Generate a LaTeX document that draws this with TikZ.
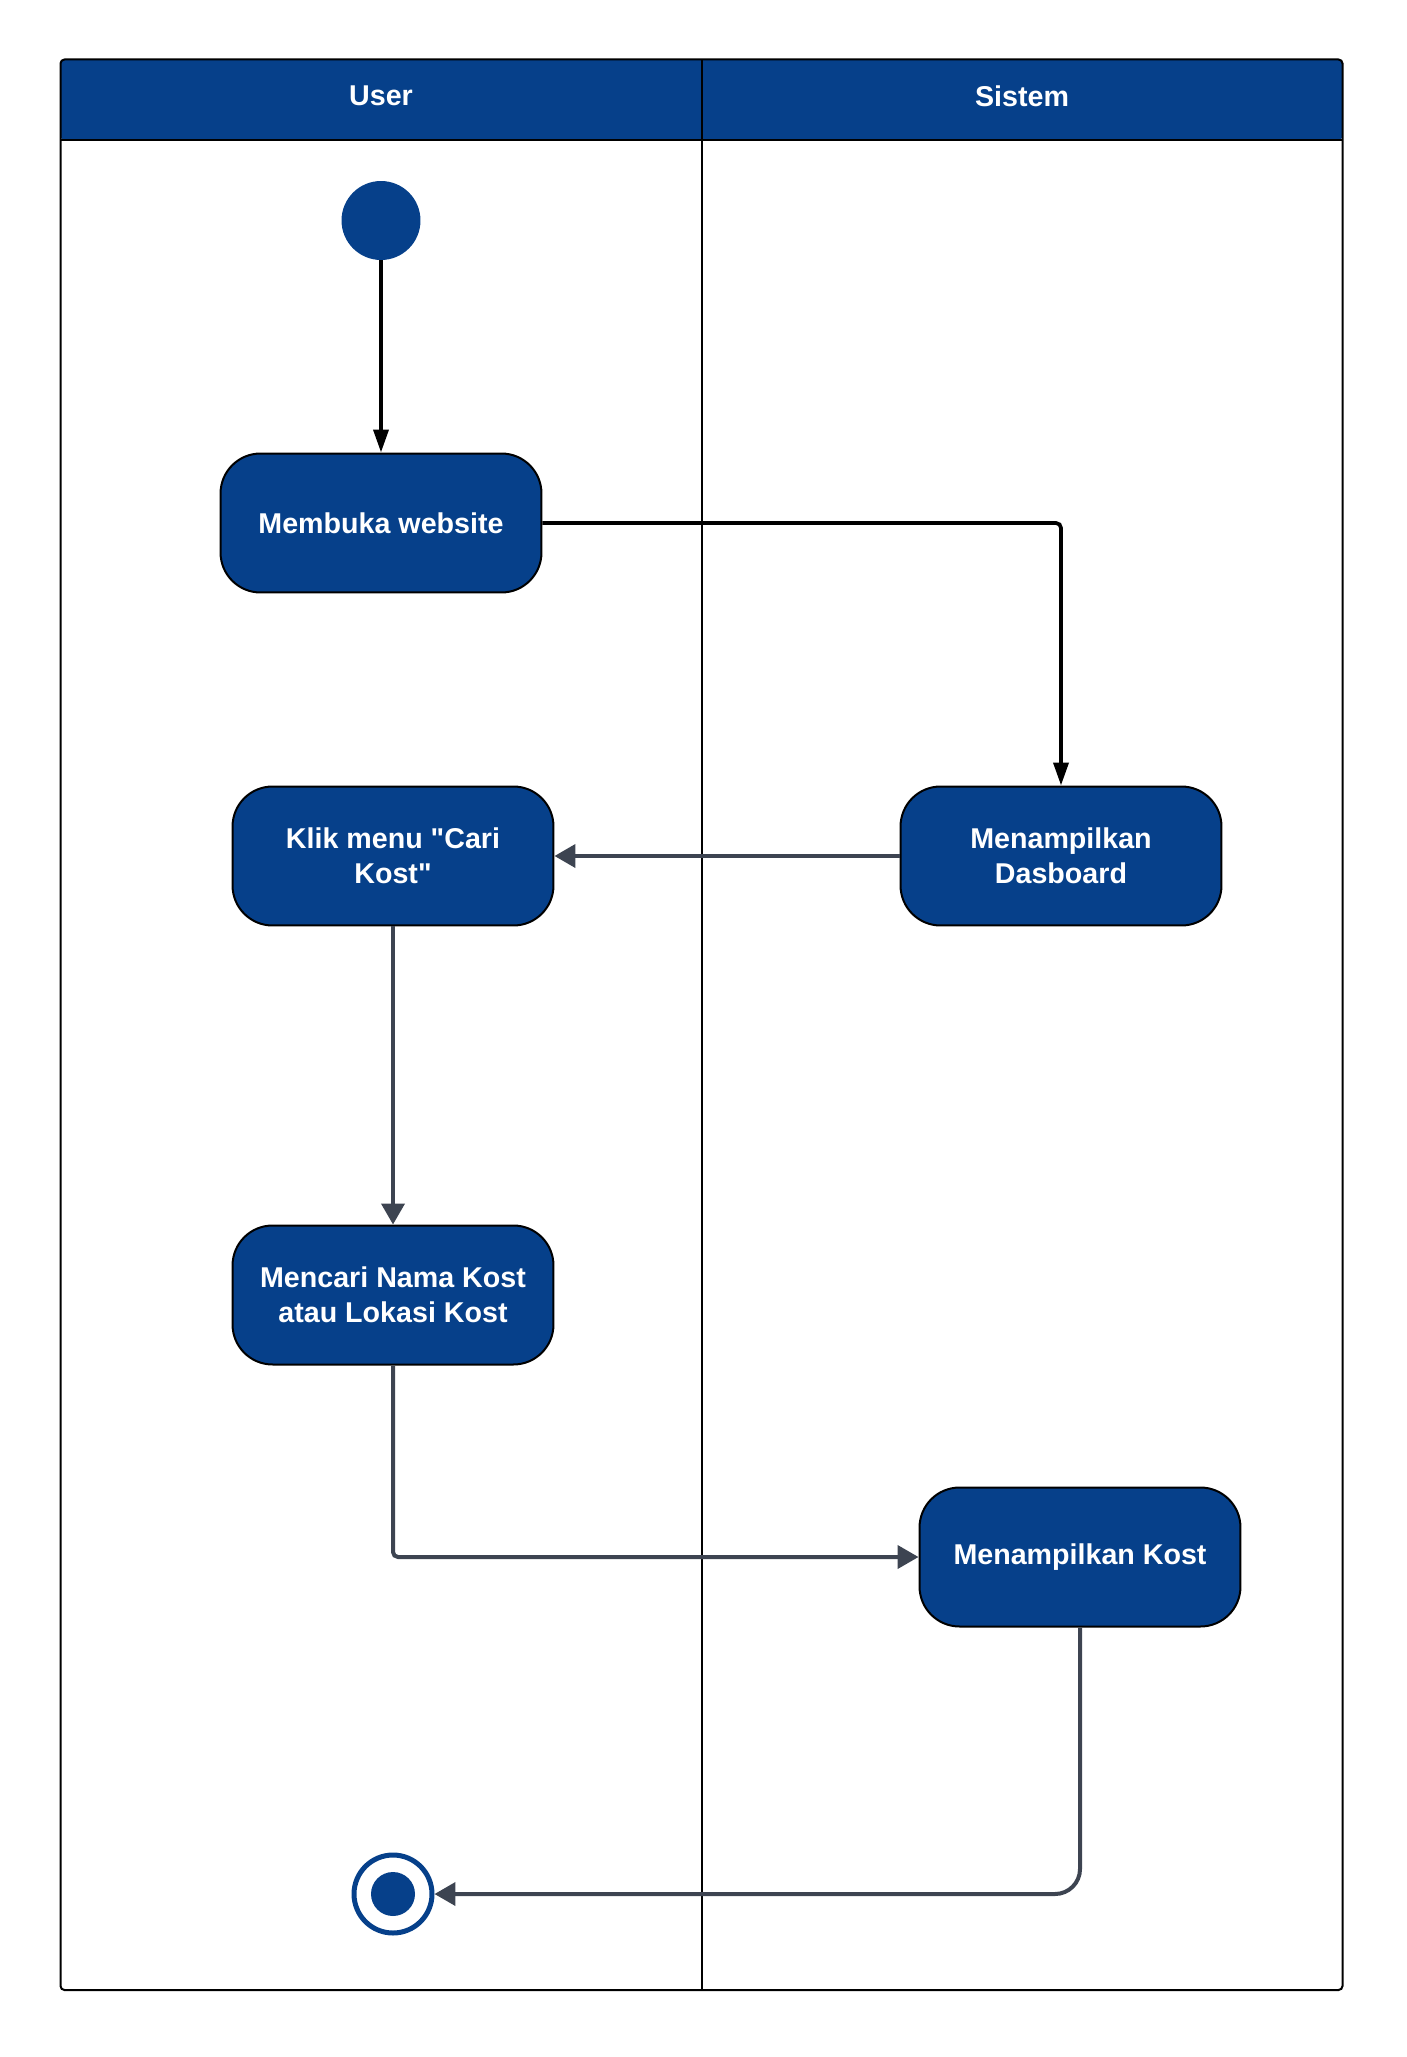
\documentclass[tikz,border=0pt]{standalone}
\usepackage{fontspec}
\setmainfont{Liberation Sans}
\usetikzlibrary{arrows.meta}

\definecolor{ublue}{HTML}{06408A}
\definecolor{ugray}{HTML}{3D4451}

\tikzset{
  actnode/.style={rectangle, rounded corners=0.8cm, draw=black, line width=0.04cm,
    fill=ublue, text=white, minimum width=6.42cm, minimum height=2.78cm,
    align=center, font=\bfseries\fontsize{16.3}{19.8}\selectfont},
  blackflow/.style={draw=black, line width=0.075cm, rounded corners=0.1cm,
    -{Triangle[length=0.46cm, width=0.3cm]}},
  grayflow/.style={draw=ugray, line width=0.08cm, rounded corners=0.1cm,
    -{Triangle[length=0.42cm, width=0.46cm]}},
}

\begin{document}
\begin{tikzpicture}[x=0.02cm, y=-0.02cm]
  \useasboundingbox (0,0) rectangle (1406,2057);

  % lanes
  \fill[ublue, rounded corners=0.08cm] (60.5,59.5) rectangle (1342.5,140);
  \draw[line width=0.04cm, rounded corners=0.08cm] (60.5,59.5) rectangle (1342.5,1990);
  \draw[line width=0.04cm] (60.5,140) -- (1342.5,140);
  \draw[line width=0.03cm] (702,59.5) -- (702,1990);
  \node[text=white, font=\bfseries\fontsize{16.3}{19}\selectfont] (user) at (381,96) {User};
  \node[text=white, font=\bfseries\fontsize{16.3}{19}\selectfont] (sistem) at (1022,96) {Sistem};

  \node[circle, fill=ublue, minimum size=1.58cm, inner sep=0] (start) at (381,220.5) {};

  \foreach \name/\x/\y/\txt in {open/381/523/{Membuka website},
      klik/393/856/{Klik menu \textquotedbl Cari\\Kost\textquotedbl},
      dash/1061/856/{Menampilkan\\Dasboard},
      cari/393/1295/{Mencari Nama Kost\\atau Lokasi Kost},
      kost/1080/1557/{Menampilkan Kost}} {
    \node[actnode] (\name) at (\x,\y) {\txt};
  }

  \node[circle, draw=ublue, line width=0.1cm, minimum size=1.56cm, inner sep=0,
    path picture={\fill[ublue] (path picture bounding box.center) circle (0.44cm);}]
    (end) at (393,1894) {};

  \draw[blackflow] (start) -- (open);
  \draw[blackflow] (open.east) -| (dash.north);
  \draw[grayflow] (dash.west) -- (klik.east);
  \draw[grayflow] (klik) -- (cari);
  \draw[grayflow] (cari.south) |- (kost.west);
  \draw[grayflow, rounded corners=0.5cm] (kost.south) |- (end.east);

\end{tikzpicture}
\end{document}
